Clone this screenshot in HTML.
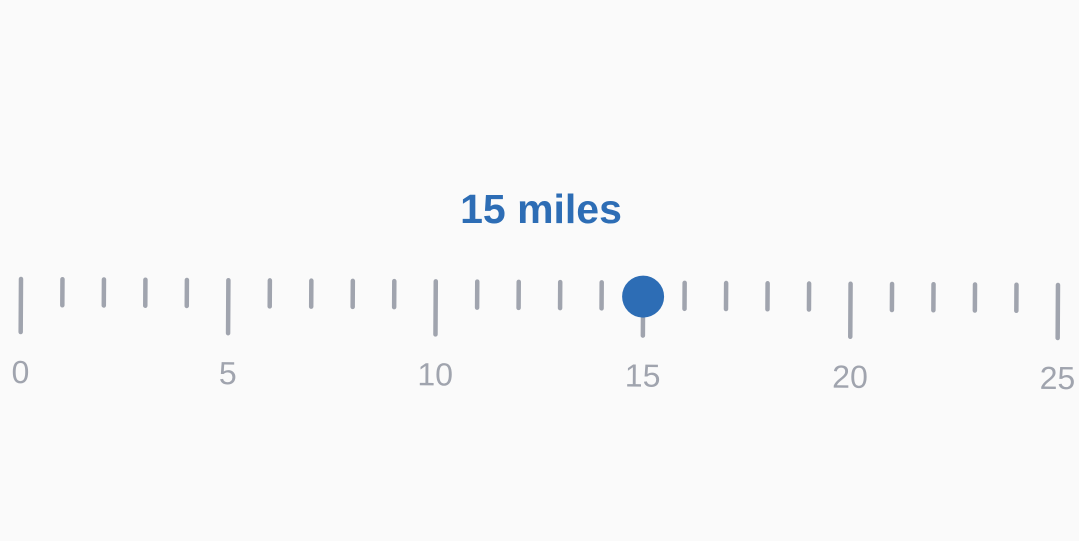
<!DOCTYPE html>
<html><head><meta charset="utf-8"><style>
html,body{margin:0;padding:0;background:#fafafa;}
svg{display:block;}
</style></head><body>
<svg width="1079" height="541" viewBox="0 0 1079 541">
<rect width="1079" height="541" fill="#fafafa"/>
<text x="541" y="223" text-anchor="middle" font-family="Liberation Sans, sans-serif" font-weight="bold" font-size="41" fill="#2d6db5">15 miles</text>
<g id="scale" transform="rotate(0.33 21 277)"></g>
</svg>
<script>
const minVal = 0;
const maxVal = 25;
const currentValue = [15];
const majorLabels = ["0","5","10","15","20","25"];
const ns = "http://www.w3.org/2000/svg";
const g = document.getElementById('scale');
const x0 = 21, x1 = 1058;
function xs(v){ return x0 + (v - minVal) / (maxVal - minVal) * (x1 - x0); }
for (let v = minVal; v <= maxVal; v++) {
  const major = v % 5 === 0;
  const l = document.createElementNS(ns, 'line');
  l.setAttribute('x1', xs(v)); l.setAttribute('x2', xs(v));
  l.setAttribute('y1', 279); l.setAttribute('y2', major ? 332 : 305);
  l.setAttribute('stroke', '#a0a4ae'); l.setAttribute('stroke-width', 4.5); l.setAttribute('stroke-linecap', 'round');
  
  
  g.appendChild(l);
}
majorLabels.forEach(function(s){
  const t = document.createElementNS(ns, 'text');
  t.setAttribute('x', xs(+s)); t.setAttribute('y', 383);
  t.setAttribute('text-anchor', 'middle');
  t.setAttribute('font-family', 'Liberation Sans, sans-serif');
  t.setAttribute('font-size', 32); t.setAttribute('fill', '#a0a4ae');
  t.textContent = s;
  
  
  g.appendChild(t);
});
const c = document.createElementNS(ns, 'circle');
c.setAttribute('cx', xs(currentValue[0])); c.setAttribute('cy', 293);
c.setAttribute('r', 21); c.setAttribute('fill', '#2d6db5');


g.appendChild(c);
</script>
</body></html>
